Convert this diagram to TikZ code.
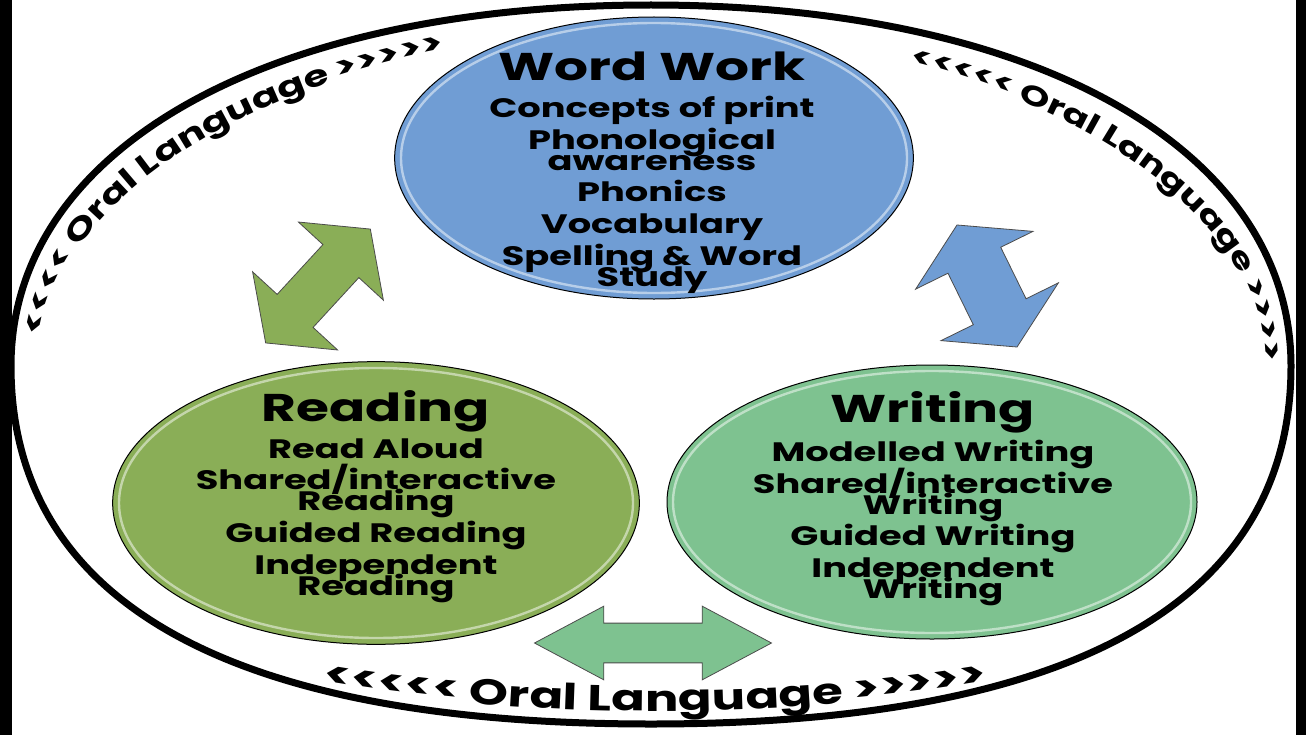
\documentclass[tikz,border=0pt]{standalone}
\usepackage{fontspec}
\usepackage{tikz}
\usetikzlibrary{shapes.geometric,shapes.arrows,decorations.text}

\newfontfamily\kidfont{Poppins}[FakeStretch=1.38]
\newcommand{\oralfont}{\kidfont\bfseries\fontsize{22}{24}\selectfont}
\newcommand{\oralsmall}{\kidfont\bfseries\fontsize{20.8}{24}\selectfont}
\newcommand{\oralbig}{\kidfont\bfseries\fontsize{27}{28}\selectfont}
\newcommand{\listfont}{\kidfont\bfseries\fontsize{20}{15.75}\selectfont\lineskiplimit=-30pt\relax}

\definecolor{wwblue}{RGB}{112,157,212}
\definecolor{rdgreen}{RGB}{138,174,87}
\definecolor{wrgreen}{RGB}{126,194,144}

\tikzset{
  hub/.style={ellipse, draw=black, line width=0.75pt, inner sep=0pt},
  rim/.style={draw=white, opacity=0.5, line width=1.8pt},
  dblarrow/.style={double arrow, draw=black!70, line width=0.6pt, inner xsep=0pt},
  headtext/.style={font=\kidfont\bfseries\fontsize{29}{30}\selectfont, inner sep=0pt, anchor=base},
  listtext/.style={font=\listfont, inner sep=0pt, anchor=north, align=center},
}

\begin{document}
\begin{tikzpicture}[x=0.75pt,y=0.75pt,yscale=-1,xscale=1]
\useasboundingbox (0,0) rectangle (1306,735);
\fill [white] (0,0) rectangle (1306,735);

%Shape: Outer ring
\draw [line width=5.25pt] (11,366) .. controls (11,149) and (267,5) .. (651,5) .. controls (1035,5) and (1291,149) .. (1291,366) .. controls (1291,602) and (1073,724) .. (651,724) .. controls (229,724) and (11,602) .. cycle ;
%Shape: Side bars
\fill (0,0) rectangle (12,735) ;
\fill (1296,0) rectangle (1306,735) ;

%Curved Text
\path [decorate, decoration={text along path, text={|\oralfont|<<<< Oral Language >>>>>}, text align=left}] (651,366) ++(185:612 and 333) arc [start angle=185, end angle=275, x radius=612, y radius=333] ;
%Curved Text
\path [decorate, decoration={text along path, text={|\oralsmall|<<<<< Oral Language >>>>}, text align=left}] (651,366) ++(295:612 and 333) arc [start angle=295, end angle=370, x radius=612, y radius=333] ;
%Curved Text
\path [decorate, decoration={text along path, text={|\oralbig|<<<<< Oral Language >>>>>}, text align=center}] (284,678) .. controls (504,722) and (806,722) .. (1026,678) ;

%Shape: Double Arrows
\node (arrRW) [dblarrow, fill=rdgreen, rotate=47.4, minimum height=116pt, inner ysep=18pt, double arrow head extend=25pt, double arrow tip angle=106] at (318,286) {};
\node (arrWW) [dblarrow, fill=wwblue, rotate=-63.8, minimum height=102pt, inner ysep=21.75pt, double arrow head extend=27pt, double arrow tip angle=118] at (987,286) {};
\node (arrRWr) [dblarrow, fill=wrgreen, minimum height=177.75pt, inner ysep=14.6pt, double arrow head extend=12.75pt, double arrow tip angle=56] at (653,643) {};

%Shape: Ellipses
\node (wordwork) [hub, fill=wwblue, minimum width=389pt, minimum height=211.5pt] at (654,158) {};
\draw [rim] (wordwork.center) ellipse (253 and 135) ;
\node (reading) [hub, fill=rdgreen, minimum width=395pt, minimum height=212pt] at (376,503) {};
\draw [rim] (reading.center) ellipse (257 and 135) ;
\node (writing) [hub, fill=wrgreen, minimum width=397.5pt, minimum height=205.5pt] at (932,502) {};
\draw [rim] (writing.center) ellipse (259 and 131) ;

% Text Node
\node (wwhead) [headtext] at (652,81) {Word Work};
% Text Node
\node (wwlist) [listtext] at (652,96) {Concepts of print\\[8pt]Phonological\\awareness\\[8pt]Phonics\\[8pt]Vocabulary\\[8pt]Spelling \& Word\\Study};
% Text Node
\node (rdhead) [headtext] at (376,421) {Reading};
% Text Node
\node (rdlist) [listtext] at (376,438) {Read Aloud\\[8pt]Shared/interactive\\Reading\\[8pt]Guided Reading\\[8pt]Independent\\Reading};
% Text Node
\node (wrhead) [headtext] at (933,422) {Writing};
% Text Node
\node (wrlist) [listtext] at (933,440) {Modelled Writing\\[8pt]Shared/interactive\\Writing\\[8pt]Guided Writing\\[8pt]Independent\\Writing};

\end{tikzpicture}
\end{document}
